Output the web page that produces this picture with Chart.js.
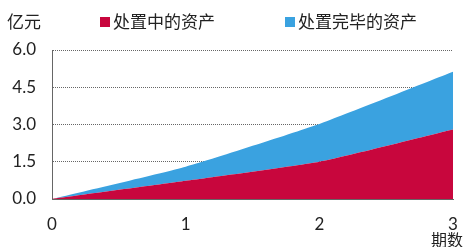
<!DOCTYPE html>
<html>
<head>
<meta charset="utf-8">
<script src="https://cdn.jsdelivr.net/npm/chart.js@4"></script>
<style>
  html, body { margin: 0; padding: 0; background: #fff; }
  #wrap { width: 466px; height: 247px; }
</style>
</head>
<body>
<div id="wrap"><canvas id="c" width="466" height="247"></canvas></div>
<script>
// periods and stacked series (亿元)
const periods = [0, 1, 2, 3];
const inProgress = [0, 0.73, 1.5, 2.8];   // 处置中的资产
const finished = [0, 0.57, 1.52, 2.32];   // 处置完毕的资产 (stacked on top)
const seriesNames = ['处置中的资产', '处置完毕的资产'];
const seriesColors = ['#c8063d', '#3aa2e0'];
const yTicks = [0, 1.5, 3.0, 4.5, 6.0];

const FONT = 'Lato, "Noto Sans CJK SC", sans-serif';
const CJK = '"Noto Sans CJK SC", sans-serif';

const labelsPlugin = {
  id: 'labels',
  afterDraw(chart) {
    const ctx = chart.ctx;
    ctx.save();
    ctx.fillStyle = '#222';
    ctx.font = '17px ' + CJK;
    ctx.textBaseline = 'middle';
    ctx.textAlign = 'left';
    ctx.fillText('亿元', 7, 22);
    // legend
    const xs = [100, 285];
    seriesNames.forEach((n, i) => {
      ctx.fillStyle = seriesColors[i];
      ctx.fillRect(xs[i], 17, 10, 10);
      ctx.fillStyle = '#222';
      ctx.fillText(n, xs[i] + 13, 22);
    });
    ctx.font = '16px ' + CJK;
    ctx.textAlign = 'right';
    ctx.fillText('期数', 463, 240);
    ctx.restore();
  }
};

new Chart(document.getElementById('c'), {
  type: 'line',
  data: {
    labels: periods,
    datasets: [
      { label: seriesNames[0], data: inProgress, backgroundColor: seriesColors[0], fill: 'origin' },
      { label: seriesNames[1], data: finished, backgroundColor: seriesColors[1], fill: '-1' }
    ]
  },
  options: {
    responsive: false,
    animation: false,
    layout: { padding: { top: 50, right: 13, left: 0, bottom: 0 } },
    elements: {
      line: { borderWidth: 0, tension: 0.15 },
      point: { radius: 0 }
    },
    plugins: { legend: { display: false }, tooltip: { enabled: false } },
    scales: {
      x: {
        type: 'linear',
        min: 0, max: 3,
        afterFit: s => { s.height = 48; },
        ticks: { stepSize: 1, padding: 7, color: '#222', font: { family: FONT, size: 17 } },
        grid: { display: false },
        border: { display: true, color: '#666', dash: [1, 1] }
      },
      y: {
        stacked: true,
        min: 0, max: 6,
        afterFit: s => { s.width = 52; },
        afterBuildTicks: s => { s.ticks = yTicks.map(v => ({ value: v })); },
        ticks: { padding: 16, color: '#222', font: { family: FONT, size: 17 },
          callback: v => v.toFixed(1) },
        grid: { drawTicks: false, color: '#666', lineWidth: 1 },
        border: { display: true, color: '#666', dash: [1, 1] }
      }
    }
  },
  plugins: [labelsPlugin]
});
</script>
</body>
</html>
